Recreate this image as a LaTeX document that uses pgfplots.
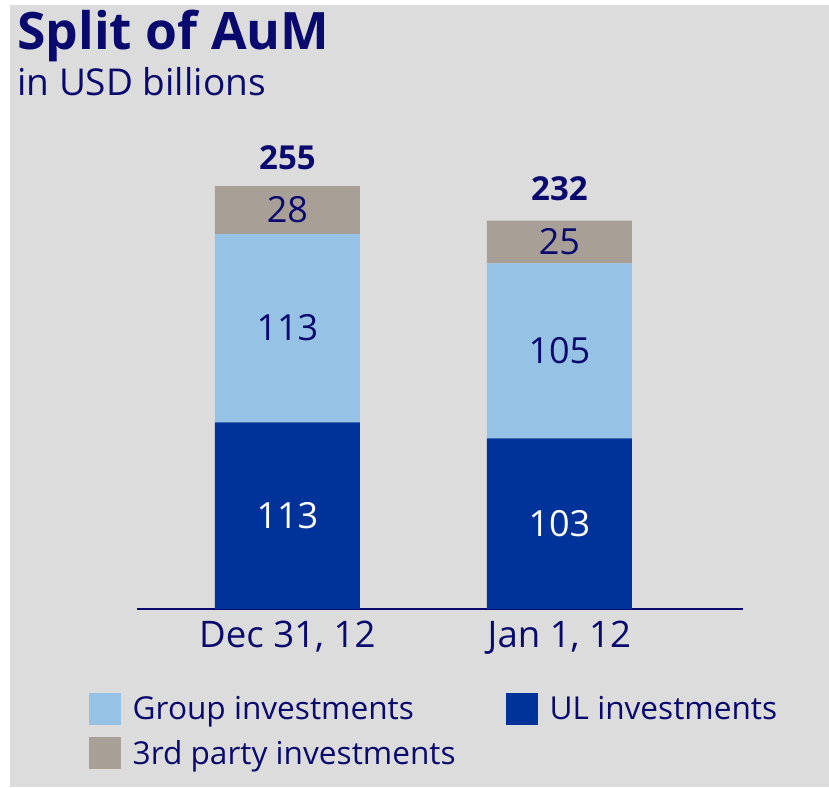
\documentclass[border=0pt]{standalone}
\usepackage{fontspec}
\setmainfont{Open Sans}
\usepackage{pgfplots}
\pgfplotsset{compat=1.18}
\usetikzlibrary{backgrounds}
\definecolor{navy}{HTML}{0A0A6E}
\definecolor{ulblue}{HTML}{003399}
\definecolor{grpblue}{HTML}{96C2E5}
\definecolor{taupe}{HTML}{A89F96}
\definecolor{bg}{HTML}{DCDCDC}
\pgfplotsset{
  myaxis/.style={width=303pt, height=232.4pt, scale only axis,
    xmin=-0.553, xmax=1.675, ymin=0, ymax=280,
    at={(0,0)}, anchor=south west, clip=false},
  legsq/.style={legend image code/.code={\fill[##1] (0pt,0pt) rectangle (16pt,16pt);}},
}
\begin{document}
\begin{tikzpicture}
\node[anchor=base west, inner sep=0pt, text=navy, font=\fontsize{25.8}{30}\selectfont\bfseries] at (-60pt,279.5pt) {Split of AuM};
\node[anchor=base west, inner sep=0pt, text=navy, font=\fontsize{18.5}{22}\selectfont] at (-60pt,256.5pt) {in USD billions};
\begin{axis}[myaxis,
  ybar stacked, bar width=72.5pt,
  axis x line*=bottom, axis y line=none,
  x axis line style={-, line width=1.4pt, navy},
  xtick={0,1}, xticklabels={{Dec 31, 12},{Jan 1, 12}},
  major tick length=0pt, ymajorticks=false,
  xticklabel style={anchor=base, inner sep=0pt, yshift=-19pt, font=\fontsize{18.3}{20}\selectfont, text=navy},
  legend columns=2, legend cell align=left,
  legend style={at={(axis description cs:-0.0792,-0.1801)}, anchor=north west,
    draw=none, fill=none, inner sep=0pt, outer sep=0pt,
    font=\fontsize{15.8}{18}\selectfont, text=navy, row sep=6.25pt,
    nodes={inner sep=0pt, anchor=south west, text height=11.5pt, text depth=2.5pt},
    /tikz/every odd column/.append style={column sep=5.85pt},
    /tikz/column 2/.style={column sep=25.15pt}},
]
\addplot[fill=ulblue, draw=none, forget plot] coordinates {(0,112.5) (1,102.8)};
\addplot[fill=grpblue, draw=none, forget plot] coordinates {(0,113.4) (1,105.4)};
\addplot[fill=taupe, draw=none, forget plot] coordinates {(0,28.9) (1,25.7)};
\addlegendimage{legsq, fill=grpblue, draw=none}
\addlegendentry{Group investments}
\addlegendimage{legsq, fill=ulblue, draw=none}
\addlegendentry{UL investments}
\addlegendimage{legsq, fill=taupe, draw=none}
\addlegendentry{3rd party investments}
\end{axis}
\begin{axis}[myaxis, hide axis]
\addplot[draw=none, nodes near coords, point meta=explicit symbolic,
  every node near coord/.style={anchor=center, text=white, font=\fontsize{18}{20}\selectfont}]
  coordinates {(0,56.25)[113] (1,51.4)[103]};
\addplot[draw=none, nodes near coords, point meta=explicit symbolic,
  every node near coord/.style={anchor=center, text=navy, font=\fontsize{18}{20}\selectfont}]
  coordinates {(0,169.2)[113] (0,240.35)[28] (1,155.5)[105] (1,221.05)[25]};
\addplot[draw=none, nodes near coords, point meta=explicit symbolic,
  every node near coord/.style={anchor=base, yshift=8.35pt, text=navy, font=\fontsize{16.5}{20}\selectfont\bfseries}]
  coordinates {(0,254.8)[255]};
\addplot[draw=none, nodes near coords, point meta=explicit symbolic,
  every node near coord/.style={anchor=base, yshift=10pt, text=navy, font=\fontsize{16.5}{20}\selectfont\bfseries}]
  coordinates {(1,233.9)[232]};
\end{axis}
\begin{scope}[on background layer]
\fill[bg] (-63.5pt,-89pt) rectangle (346pt,302pt);
\end{scope}
\pgfresetboundingbox
\useasboundingbox (-68.5pt,-89pt) rectangle (346pt,304.5pt);
\end{tikzpicture}
\end{document}
